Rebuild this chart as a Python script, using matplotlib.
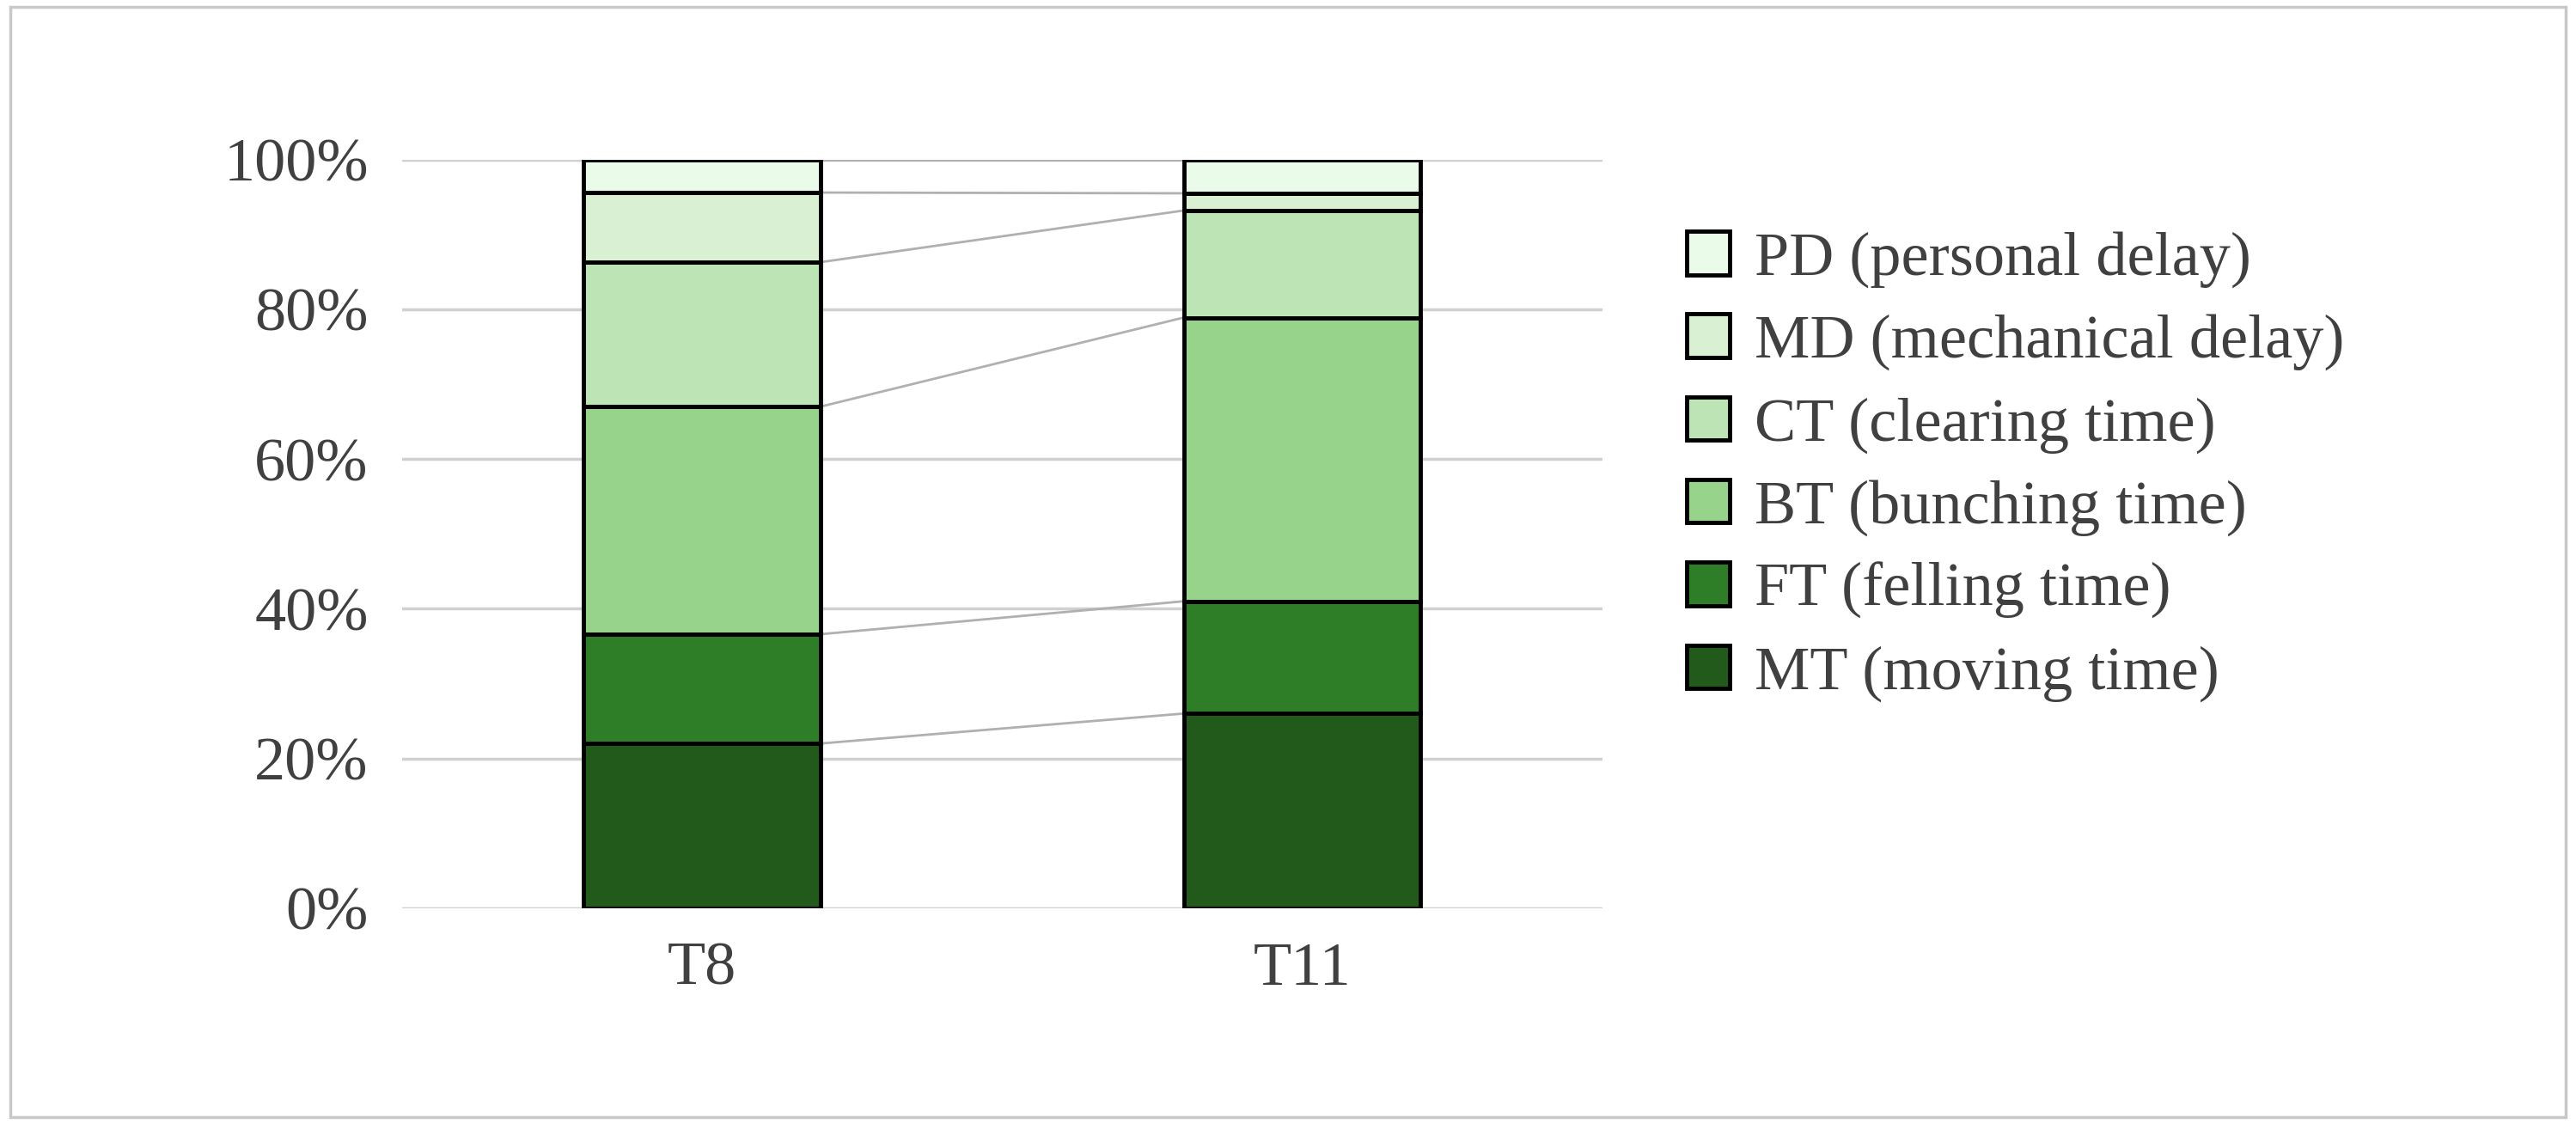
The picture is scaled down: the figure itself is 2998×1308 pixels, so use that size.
import matplotlib
matplotlib.use("Agg")
import matplotlib.pyplot as plt
from matplotlib.patches import Rectangle
import numpy as np

categories = ["T8", "T11"]
series = ["MT (moving time)", "FT (felling time)", "BT (bunching time)",
          "CT (clearing time)", "MD (mechanical delay)", "PD (personal delay)"]
MT = [22.0, 26.0]
FT = [14.6, 15.0]
BT = [30.4, 37.9]
CT = [19.3, 14.3]
MD = [9.3, 2.3]
PD = [4.4, 4.5]
colors = ["#215a1b", "#2e7d27", "#98d38c", "#bce4b4", "#d9f0d3", "#ebfbea"]
yticks = [0, 20, 40, 60, 80, 100]

plt.rcParams['font.family'] = ['Liberation Serif', 'DejaVu Serif']
fig = plt.figure(figsize=(29.98, 13.08), dpi=100)
fig.patches.append(Rectangle((0.004, 0.006), 0.992, 0.988, transform=fig.transFigure,
                             fill=False, edgecolor="#c8c8c8", linewidth=2.5))
ax = fig.add_axes([0.156, 0.192, 0.466, 0.666])
x = np.arange(len(categories))
w = 0.395
data = [MT, FT, BT, CT, MD, PD]
bottom = np.zeros(len(categories))
handles = []
for vals, c, lab in zip(data, colors, series):
    h = ax.bar(x, vals, w, bottom=bottom, color=c, edgecolor="black", linewidth=3.5, label=lab, zorder=3)
    handles.append(h)
    top = bottom + np.array(vals)
    ax.plot([x[0] + w / 2, x[1] - w / 2], [top[0], top[1]], color="#b0b0b0", lw=2, zorder=2)
    bottom = top
ax.set_xlim(-0.5, 1.5)
ax.set_ylim(0, 100)
ax.set_yticks(yticks)
ax.set_yticklabels([f"{v}%" for v in yticks], fontsize=52, color="#404040")
ax.set_xticks(x)
ax.set_xticklabels(categories, fontsize=52, color="#404040")
ax.tick_params(length=0, pad=28)
ax.yaxis.grid(True, color="#d0d0d0", lw=2.5, zorder=0)
for s in ax.spines.values():
    s.set_visible(False)
leg = fig.legend(handles[::-1], series[::-1], loc="center left", bbox_to_anchor=(0.633, 0.585),
                 frameon=False, fontsize=52, labelspacing=0.42, handlelength=0.7, handleheight=0.7,
                 handletextpad=0.4, labelcolor="#404040")
fig.savefig("out.png", dpi=100)
